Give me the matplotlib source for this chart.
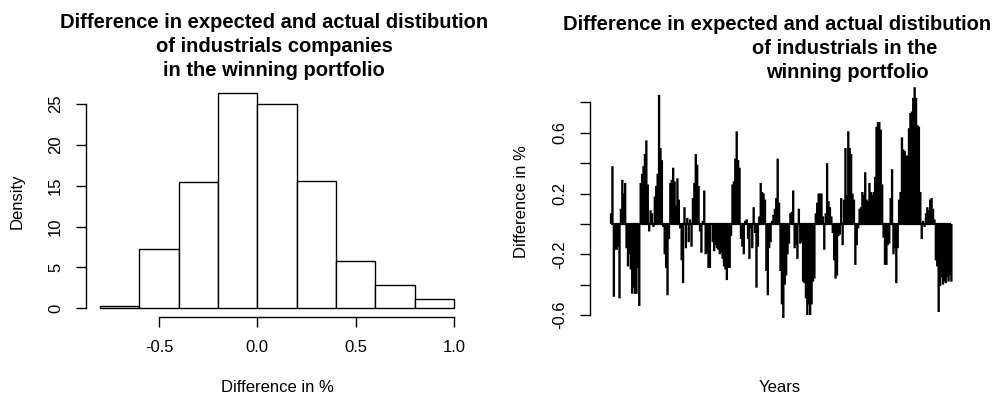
import matplotlib
matplotlib.use("Agg")
import matplotlib.pyplot as plt
import numpy as np

plt.rcParams["font.family"] = ["Liberation Sans", "DejaVu Sans"]

# histogram of the differences (density per bin)
bin_edges = [-0.8, -0.6, -0.4, -0.2, 0.0, 0.2, 0.4, 0.6, 0.8, 1.0]
bin_density = [0.25, 7.3, 15.4, 26.3, 25.0, 15.6, 5.8, 2.8, 1.2]
hist_xticks = [-0.5, 0.0, 0.5, 1.0]
hist_yticks = [0, 5, 10, 15, 20, 25]

# yearly differences in order
diff_values = [
    0.07, 0.38, -0.48, -0.17, -0.17, -0.15, -0.49, 0.10, 0.29, 0.20,
    0.27, -0.16, -0.28, -0.20, -0.30, -0.46, -0.42, -0.46, -0.46, -0.29,
    -0.54, 0.27, 0.33, 0.38, 0.46, 0.55, 0.26, -0.05,
    0.09, 0.07, -0.02, 0.18, 0.25, 0.33, 0.85, 0.50, 0.42, -0.02,
    -0.20, -0.29, -0.47, -0.10, 0.27, 0.29, 0.37, 0.28, 0.12, 0.30,
    0.16, -0.03, -0.24, -0.39, 0.11, -0.16, 0.04, -0.12, 0.03, -0.15,
    0.17, 0.27, 0.46,
    0.39, 0.25, -0.05, -0.19, 0.02, 0.22, -0.20, -0.19, -0.29, -0.29,
    0.00, -0.12, -0.18, -0.14, -0.16, -0.17, -0.20, -0.19, -0.23, -0.28,
    -0.30, -0.37, -0.29, -0.29, -0.08, 0.26, 0.28, 0.43, 0.61, 0.42,
    0.37, -0.10, -0.15, -0.20, 0.02, 0.03, -0.10, -0.23,
    -0.03, -0.16, 0.11, -0.06, -0.42, -0.15, 0.05, 0.27, 0.21, 0.20,
    0.16, -0.31, -0.47, -0.16, -0.12, 0.02, 0.06, 0.10, 0.17, 0.43,
    0.14, -0.31, -0.53, -0.62, -0.40, -0.34, -0.20, -0.13, 0.07, 0.08,
    0.22, -0.16, -0.14, -0.23, 0.10,
    -0.13, -0.12, -0.38, -0.39, -0.49, -0.60, -0.53, -0.60, -0.53, -0.38,
    -0.36, 0.07, 0.14, 0.20, 0.20, 0.20, 0.05, -0.17, 0.07, 0.40,
    0.15, 0.11, 0.05, -0.06, -0.24, -0.36, -0.34, -0.08, -0.07, 0.17,
    -0.14, 0.16, 0.50, 0.19, 0.61, 0.50, 0.46,
    0.20, 0.16, -0.27, -0.14, -0.03, 0.10, 0.11, 0.21, 0.19, 0.34,
    0.16, 0.15, 0.27, 0.21, 0.19, 0.21, 0.31, 0.64, 0.67, 0.67,
    0.62, 0.26, -0.09, -0.27, -0.27, -0.14, -0.13, 0.17, 0.36, -0.20,
    -0.16, -0.39, -0.16, 0.16, 0.21, 0.57, 0.49, 0.48,
    0.45, 0.45, 0.63, 0.73, 0.74, 0.83, 0.90, 0.83, 0.65, 0.64,
    0.21, -0.10, 0.02, -0.02, 0.07, 0.11, 0.09, 0.16, 0.17, 0.10,
    0.03, -0.24, -0.28, -0.58, -0.41, -0.35, -0.40, -0.38, -0.39, -0.35,
    -0.38, -0.34, -0.38,
]
diff_yticks = [-0.6, -0.4, -0.2, 0.0, 0.2, 0.4, 0.6, 0.8]
diff_ylabels = ["-0.6", "", "-0.2", "", "0.2", "", "0.6", ""]

W, H = 995, 398


def fx(px):
    return px / W


def fy(py):
    return 1 - py / H


fig = plt.figure(figsize=(W / 100, H / 100), dpi=100)

# left: histogram
ax1 = fig.add_axes([fx(86), fy(317), fx(468) - fx(86), fy(84.5) - fy(317)])
ax1.bar(bin_edges[:-1], bin_density, width=np.diff(bin_edges), align="edge",
        facecolor="white", edgecolor="black", linewidth=1.0)
ax1.set_xlim(-0.872, 1.072)
ax1.set_ylim(-1.05, 27.35)
ax1.set_xticks(hist_xticks)
ax1.set_xticklabels(["-0.5", "0.0", "0.5", "1.0"])
ax1.set_yticks(hist_yticks)
ax1.set_yticklabels([str(v) for v in hist_yticks], rotation=90, va="center")
ax1.spines["top"].set_visible(False)
ax1.spines["right"].set_visible(False)
ax1.spines["left"].set_bounds(0, 25)
ax1.spines["bottom"].set_bounds(-0.5, 1.0)

# right: differences over time
x = np.arange(len(diff_values))
ax2 = fig.add_axes([fx(590), fy(317), fx(972) - fx(590), fy(84.5) - fy(317)])
ax2.vlines(x, 0, diff_values, color="black", linewidth=1.7, clip_on=False,
           snap=False)
ax2.hlines(0, x[0], x[-1], color="black", linewidth=1.6)
ax2.set_xlim(-14.9, 255.6)
ax2.set_ylim(-0.613, 0.918)
ax2.set_xticks([])
ax2.set_yticks(diff_yticks)
ax2.set_yticklabels(diff_ylabels, rotation=90, va="center")
for s in ["top", "right", "bottom"]:
    ax2.spines[s].set_visible(False)
ax2.spines["left"].set_bounds(-0.6, 0.8)

for ax in (ax1, ax2):
    ax.spines["left"].set_linewidth(1.0)
    ax.spines["bottom"].set_linewidth(1.0)
    ax.tick_params(direction="out", length=7, width=1.0, labelsize=12, pad=9.5)

# titles and axis labels
tfont = dict(fontsize=14.5, fontweight="bold", ha="center", va="baseline")
fig.text(fx(274), fy(28.3), "Difference in expected and actual distibution", **tfont)
fig.text(fx(274), fy(52), "of industrials companies", **tfont)
fig.text(fx(274), fy(76), "in the winning portfolio", **tfont)
fig.text(fx(777), fy(30), "Difference in expected and actual distibution", **tfont)
fig.text(fx(845), fy(54), "of industrials in the", **tfont)
fig.text(fx(847), fy(77.5), "winning portfolio", **tfont)

fig.text(fx(17.5), fy(201), "Density", rotation=90, fontsize=12, ha="center", va="center")
fig.text(fx(277), fy(388), "Difference in %", fontsize=12, ha="center", va="center")
fig.text(fx(521.5), fy(202), "Difference in %", rotation=90, fontsize=12, ha="center", va="center")
fig.text(fx(780), fy(388), "Years", fontsize=12, ha="center", va="center")

fig.savefig("out.png", dpi=100)
